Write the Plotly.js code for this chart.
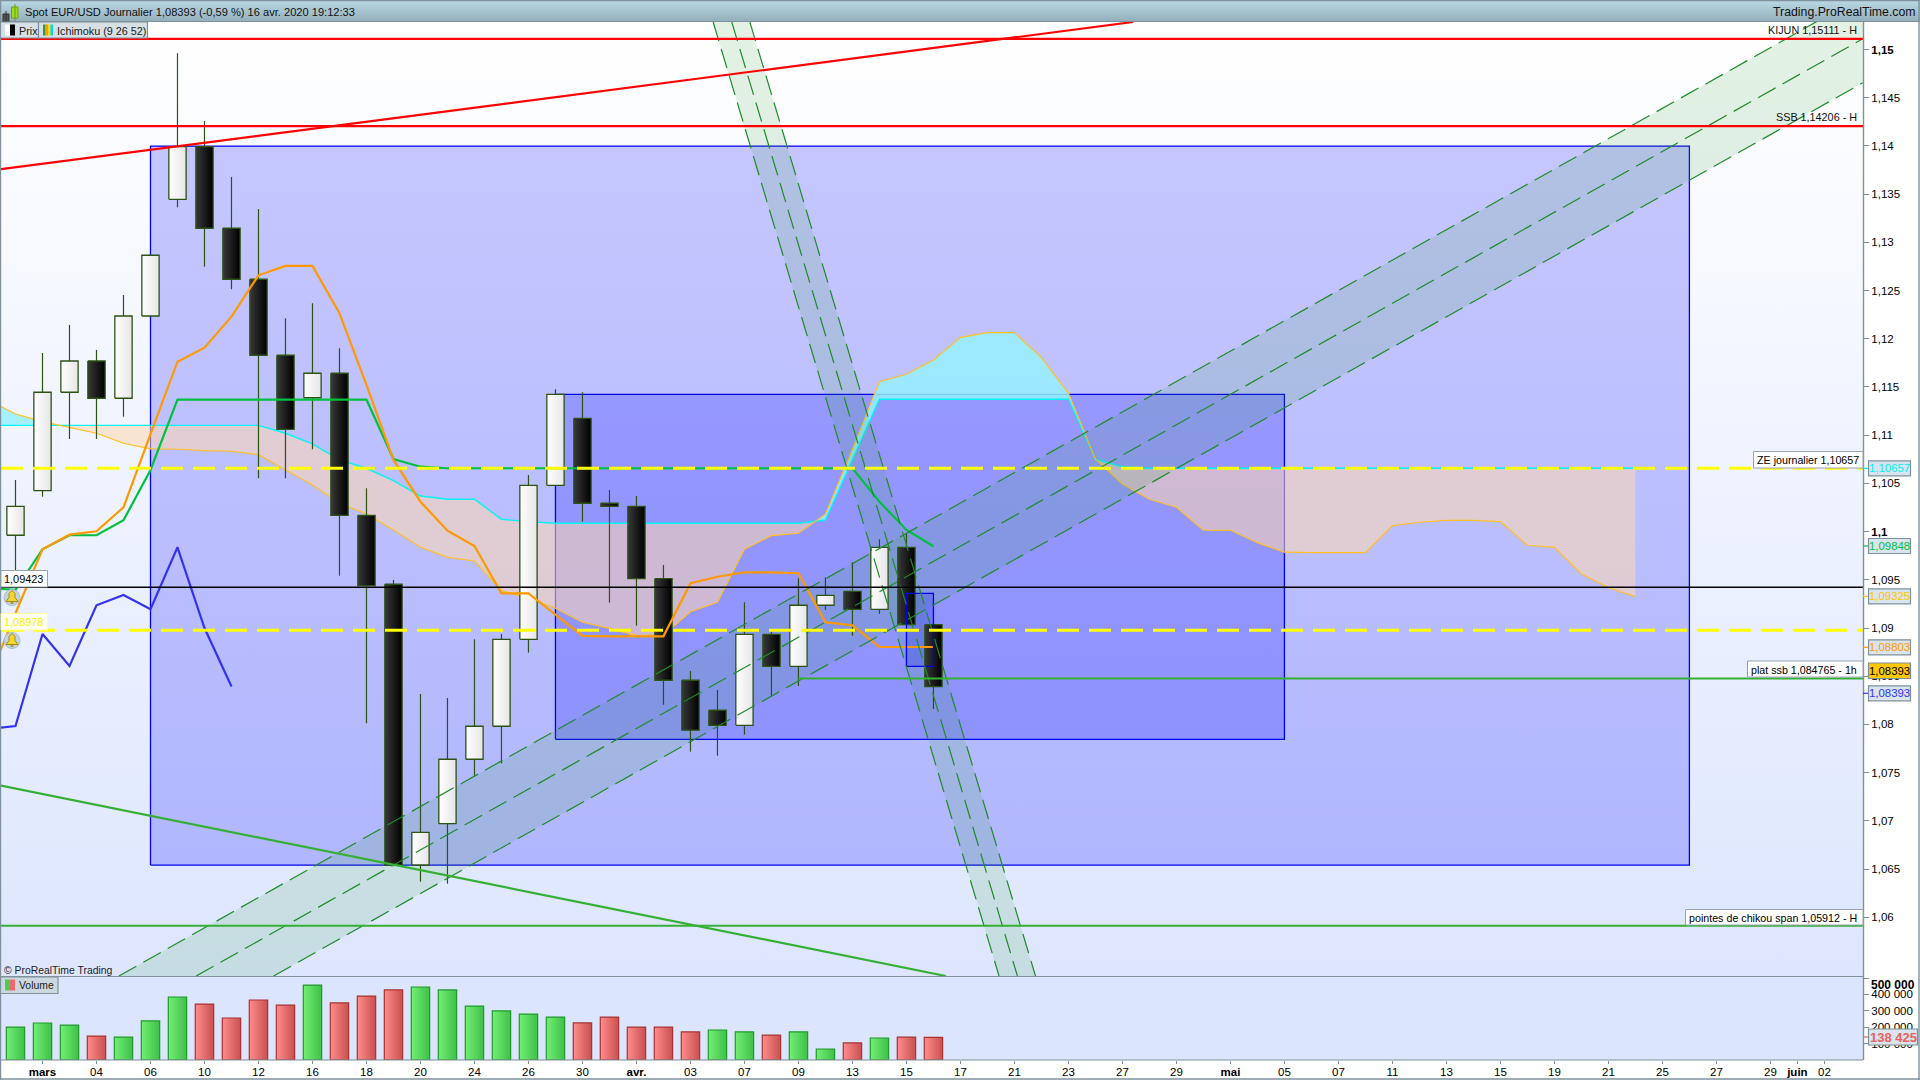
<!DOCTYPE html>
<html><head><meta charset="utf-8">
<script src="https://cdn.plot.ly/plotly-3.0.1.min.js"></script>
<style>html,body{margin:0;padding:0;background:#fff;overflow:hidden}#c{width:1920px;height:1080px}</style>
</head><body><div id="c"></div>
<script>
// ---------- data ----------
const opens =[1.09962,1.10424,1.11445,1.11769,1.11383,1.12236,1.13446,1.13992,1.13146,1.12617,1.11829,1.11388,1.11642,1.10169,1.09454,1.06542,1.06971,1.07639,1.07981,1.08883,1.10480,1.11175,1.10294,1.10262,1.09512,1.08458,1.08147,1.07991,1.08935,1.08603,1.09236,1.09381,1.09194,1.09837,1.09035];
const highs =[1.10535,1.11852,1.12143,1.11884,1.12454,1.12866,1.14961,1.14258,1.13678,1.13346,1.12212,1.12368,1.11901,1.10449,1.09498,1.08316,1.08274,1.08883,1.08938,1.10587,1.11476,1.11445,1.10432,1.10369,1.09654,1.08554,1.08357,1.09267,1.08962,1.09516,1.09526,1.09682,1.09920,1.09982,1.09035];
const lows  =[1.09446,1.10362,1.10960,1.10960,1.11192,1.12236,1.13363,1.12747,1.12513,1.10553,1.10553,1.10854,1.09543,1.08012,1.06530,1.06369,1.06348,1.07466,1.07597,1.08744,1.10480,1.10103,1.09263,1.09024,1.08205,1.07718,1.07676,1.07894,1.08298,1.08399,1.09187,1.08921,1.09146,1.09035,1.08160];
const closes=[1.10262,1.11445,1.11769,1.11383,1.12236,1.12866,1.13992,1.13146,1.12617,1.11829,1.11061,1.11642,1.10169,1.09439,1.06542,1.06881,1.07639,1.07981,1.08883,1.10480,1.11424,1.10294,1.10262,1.09512,1.08458,1.07940,1.07991,1.08935,1.08603,1.09236,1.09339,1.09194,1.09837,1.09035,1.08393];
const volumes=[201000,225600,213000,146000,140000,238000,384000,341000,256000,366000,335000,457000,348000,390000,427000,445000,427000,329000,299000,280000,262000,226000,262000,201000,201000,171000,183000,171000,152000,171000,67000,104000,134000,140000,138425];
const volumeUp=[1,1,1,0,1,1,1,0,0,0,0,1,0,0,0,1,1,1,1,1,1,0,0,0,0,0,1,1,0,1,1,0,1,0,0];
// Ichimoku, first value is the bar before the first bar on screen
const tenkan=[1.09415,1.09395,1.09817,1.09962,1.09962,1.10117,1.10639,1.11368,1.11368,1.11368,1.11368,1.11368,1.11368,1.11368,1.11368,1.10753,1.10673,1.10657,1.10657,1.10657,1.10657,1.10657,1.10657,1.10657,1.10657,1.10657,1.10657,1.10657,1.10657,1.10657,1.10657,1.10657,1.10657,1.10310,1.10017,1.09848];
const kijun=[1.08461,1.09153,1.09817,1.09968,1.10003,1.10252,1.11012,1.11762,1.11907,1.12229,1.12658,1.12755,1.12755,1.12264,1.11521,1.10743,1.10310,1.10009,1.09851,1.09360,1.09360,1.09135,1.08918,1.08914,1.08914,1.08914,1.09464,1.09532,1.09578,1.09578,1.09568,1.09060,1.09028,1.08803,1.08803,1.08803];
const chikou=[1.07954,1.07984,1.08938,1.08606,1.09236,1.09343,1.09194,1.09837,1.09000,1.08393];
const senkouA=[1.11365,1.11220,1.11140,1.11078,1.11020,1.10916,1.10857,1.10854,1.10839,1.10833,1.10798,1.10639,1.10483,1.10294,1.10183,1.10017,1.09837,1.09733,1.09695,1.09387,1.09308,1.09205,1.09060,1.08997,1.08921,1.08928,1.09169,1.09267,1.09817,1.09958,1.09983,1.10180,1.10854,1.11555,1.11632,1.11780,1.12015,1.12063,1.12063,1.11804,1.11434,1.10750,1.10494,1.10335,1.10252,1.10014,1.10014,1.09885,1.09786,1.09781,1.09781,1.09781,1.10061,1.10097,1.10117,1.10117,1.10103,1.09858,1.09837,1.09560,1.09418,1.09325];
const senkouB=[1.11102,1.11102,1.11102,1.11102,1.11102,1.11102,1.11102,1.11102,1.11102,1.11102,1.11102,1.11020,1.10909,1.10743,1.10657,1.10528,1.10369,1.10335,1.10335,1.10128,1.10103,1.10086,1.10086,1.10086,1.10086,1.10086,1.10086,1.10086,1.10086,1.10086,1.10086,1.10120,1.10743,1.11372,1.11372,1.11372,1.11372,1.11372,1.11372,1.11372,1.11372,1.10750,1.10673,1.10657,1.10657,1.10657,1.10657,1.10657,1.10657,1.10657,1.10657,1.10657,1.10657,1.10657,1.10657,1.10657,1.10657,1.10657,1.10657,1.10657,1.10657,1.10657];
// drawn objects
const rectBig=[5,62,1.06541,1.13998], rectMid=[20,47,1.07846,1.11424], rectSmall=[33,34,1.08603,1.09360];
const levelKijun=1.15111, levelSSB=1.14206, levelZE=1.10657, levelPointes=1.05912, levelPlat=1.084765, levelBlack=1.09423, levelYellow=1.08978;
const redTrendX=[-0.54,41.4], redTrendY=[1.13758,1.15285];
const greenTrendX=[-0.54,34.46], greenTrendY=[1.07365,1.05391];
const upChanTopX=[3.83,68.43], upChanTopY=[1.05391,1.15559];
const upChanMidX=[6.69,68.43], upChanMidY=[1.05391,1.15112];
const upChanLowX=[9.56,68.43], upChanLowY=[1.05391,1.14656];
const downChanAX=[25.84,36.43], downChanBX=[26.53,37.11], downChanCX=[27.2,37.78], downChanY=[1.15285,1.05391];
// axis labels
const xTickVals=[1,3,5,7,9,11,13,15,17,19,21,23,25,27,29,31,33,35,37,39,41,43,45,47,49,51,53,55,57,59,61,63,65,66,67];
const xTickText=['<b>mars</b>','04','06','10','12','16','18','20','24','26','30','<b>avr.</b>','03','07','09','13','15','17','21','23','27','29','<b>mai</b>','05','07','11','13','15','19','21','25','27','29','<b>juin</b>','02'];
const yTickVals=[1.15,1.145,1.14,1.135,1.13,1.125,1.12,1.115,1.11,1.105,1.1,1.095,1.09,1.085,1.08,1.075,1.07,1.065,1.06];
const yTickText=['<b>1,15</b>','1,145','1,14','1,135','1,13','1,125','1,12','1,115','1,11','1,105','<b>1,1</b>','1,095','1,09','1,085','1,08','1,075','1,07','1,065','1,06'];
const volTickVals=[500000,400000,300000,200000,100000];
const volTickText=['','400 000','300 000','200 000','100 000'];
const valueTags=[['1,10657',468.3,'#00F0F0'],['1,09848',546,'#00C040'],['1,09325',596.3,'#FFC400'],['1,08803',647.3,'#FF9900'],['1,08393',693.3,'#3333FF']];

// ---------- geometry helpers ----------
const FONT='"Liberation Sans",Arial,sans-serif', GREY='#7E919C';
const XR=[-0.537,68.43], YR=[1.05391,1.15285], VR=[0,512200];
const xp=p=>(p-1)/1862, yp=p=>(1060-p)/1038;
const traces=[], shapes=[], notes=[];
const L=(x,y,color,width,dash,extra)=>traces.push(Object.assign({type:'scatter',mode:'lines',x,y,line:{color,width,dash:dash||'solid'},hoverinfo:'skip',showlegend:false},extra||{}));
const poly=(x,y,fill,extra)=>traces.push(Object.assign({type:'scatter',mode:'lines',x,y,fill:'toself',fillcolor:fill,line:{width:0},hoverinfo:'skip',showlegend:false},extra||{}));
const rectXY=r=>({x:[r[0],r[1],r[1],r[0],r[0]],y:[r[2],r[2],r[3],r[3],r[2]]});
const box=(x0,y0,x1,y1,fill,line,lw)=>shapes.push({type:'rect',xref:'paper',yref:'paper',x0:xp(x0),x1:xp(x1),y0:yp(y0),y1:yp(y1),fillcolor:fill||'rgba(0,0,0,0)',line:{color:line||'rgba(0,0,0,0)',width:line?(lw||1):0},layer:'above'});
const seg=(x0,y0,x1,y1,c,w)=>shapes.push({type:'line',xref:'paper',yref:'paper',x0:xp(x0),x1:xp(x1),y0:yp(y0),y1:yp(y1),line:{color:c,width:w||1},layer:'above'});
const txt=(s,x,y,anchor,o)=>notes.push({text:s,xref:'paper',yref:'paper',x:xp(x),y:yp(y),xanchor:anchor,yanchor:'middle',showarrow:false,borderpad:0,font:{family:FONT,size:(o&&o.size)||10.8,color:(o&&o.color)||'#000'}});

// background of the price panel
traces.push({type:'scatter',mode:'lines',x:[XR[0],XR[1],XR[1],XR[0],XR[0]],y:[YR[0],YR[0],YR[1],YR[1],YR[0]],fill:'toself',line:{width:0},hoverinfo:'skip',showlegend:false,
  fillgradient:{type:'vertical',colorscale:[[0,'#DDE6FE'],[1,'#FFFFFF']]}});

// blue rectangles (fill)
const RECTF='rgba(0,0,255,0.21)';
[rectBig,rectMid,rectSmall].forEach(r=>{const p=rectXY(r);poly(p.x,p.y,RECTF);});
[rectBig,rectMid].forEach(r=>{const p=rectXY(r);L(p.x,p.y,'#0000EE',1.3);});

// Ichimoku cloud: one polygon per stretch between two crossings of the spans
(function(){
  const n=senkouA.length;let xs=[],ta=[],tb=[];
  const flush=()=>{ if(xs.length<2)return;
    const up=ta.reduce((a,b)=>a+b,0)>tb.reduce((a,b)=>a+b,0);
    poly(xs.concat(xs.slice().reverse()),ta.concat(tb.slice().reverse()),up?'rgba(150,240,255,0.85)':'rgba(255,215,175,0.55)');
    xs=[];ta=[];tb=[]; };
  for(let k=0;k<n;k++){
    const i=k-1;
    if(k>0){const d0=senkouA[k-1]-senkouB[k-1],d1=senkouA[k]-senkouB[k];
      if(d0*d1<0){const t=d0/(d0-d1),cx=i-1+t,cy=senkouA[k-1]+t*(senkouA[k]-senkouA[k-1]);
        xs.push(cx);ta.push(cy);tb.push(cy);flush();xs.push(cx);ta.push(cy);tb.push(cy);}
    }
    xs.push(i);ta.push(senkouA[k]);tb.push(senkouB[k]);
    if(senkouA[k]===senkouB[k]){flush();xs.push(i);ta.push(senkouA[k]);tb.push(senkouB[k]);}
  }
  flush();
})();
const idx=a=>a.map((_,k)=>k-1);
L(idx(senkouB),senkouB,'#00F5F5',1.4);
L(idx(senkouA),senkouA,'#FFC020',1.2);

// channel fills
const CH='rgba(60,160,60,0.14)';
poly([upChanTopX[0],upChanTopX[1],upChanLowX[1],upChanLowX[0],upChanTopX[0]],[upChanTopY[0],upChanTopY[1],upChanLowY[1],upChanLowY[0],upChanTopY[0]],CH);
poly([downChanAX[0],downChanAX[1],downChanCX[1],downChanCX[0],downChanAX[0]],[downChanY[0],downChanY[1],downChanY[1],downChanY[0],downChanY[0]],CH);

// candles
const WICK='#2C5214', W=0.32;
const wx=[],wy=[];
highs.forEach((h,i)=>{wx.push(i,i,null);wy.push(h,lows[i],null);});
L(wx,wy,WICK,1.2);
opens.forEach((o,i)=>{
  const c=closes[i],up=c>o;
  traces.push({type:'scatter',mode:'lines',x:[i-W,i+W,i+W,i-W,i-W],y:[o,o,c,c,o],fill:'toself',line:{color:WICK,width:1.3},hoverinfo:'skip',showlegend:false,
    fillgradient:{type:'horizontal',colorscale:up?[[0,'#FFFFFF'],[1,'#E6E6E6']]:[[0,'#383838'],[1,'#000000']]}});
});

// indicators over the candles
L(idx(tenkan),tenkan,'#00C040',2.2);
L(idx(kijun),kijun,'#FF9900',2.2);
L(idx(chikou),chikou,'#3333EE',2.2);
{const p=rectXY(rectSmall);L(p.x,p.y,'#0000EE',1.3);}

// channel lines
const DSH='20px,8px',DC='#1F8A2A';
L(upChanTopX,upChanTopY,DC,1.2,DSH);L(upChanMidX,upChanMidY,DC,1.2,DSH);L(upChanLowX,upChanLowY,DC,1.2,DSH);
L(downChanAX,downChanY,DC,1.2,DSH);L(downChanBX,downChanY,DC,1.2,DSH);L(downChanCX,downChanY,DC,1.2,DSH);

// levels and trend lines
L(XR,[levelBlack,levelBlack],'#000',1.4);
L(XR,[levelZE,levelZE],'#FFFF00',3,'22px,10px');
L(XR,[levelYellow,levelYellow],'#FFFF00',3,'22px,10px');
L(XR,[levelKijun,levelKijun],'#FF0000',2.2);
L(XR,[levelSSB,levelSSB],'#FF0000',2.2);
L(redTrendX,redTrendY,'#FF0000',2.2);
L(greenTrendX,greenTrendY,'#35B035',2.2);
L(XR,[levelPointes,levelPointes],'#35B035',2.2);
L([29,XR[1]],[levelPlat,levelPlat],'#35B035',2.2);

// volume bars
const VW=0.34;
volumes.forEach((v,i)=>{
  const up=volumeUp[i];
  traces.push({type:'scatter',mode:'lines',yaxis:'y2',x:[i-VW,i+VW,i+VW,i-VW,i-VW],y:[0,0,v,v,0],fill:'toself',line:{color:up?'#1F9A2A':'#A83232',width:1.2},hoverinfo:'skip',showlegend:false,
    fillgradient:{type:'horizontal',colorscale:up?[[0,'#74EE74'],[1,'#3EC04A']]:[[0,'#FF8C8C'],[1,'#C85050']]}});
});

// ---------- frame ----------
const top0=[185,214,227],top1=[146,174,186];
for(let k=0;k<21;k++){const t=k/20,c=top0.map((a,j)=>Math.round(a+(top1[j]-a)*t));
  shapes.push({type:'rect',xref:'paper',yref:'paper',x0:xp(0),x1:xp(1920),y0:yp(k+1),y1:yp(k+2),fillcolor:`rgb(${c})`,line:{width:0},layer:'above'});}
seg(0,0.5,1920,0.5,GREY,1.4);seg(0,21.5,1920,21.5,GREY,1.2);
seg(0,976.5,1863,976.5,GREY,1.2);seg(1,1060,1863,1060,GREY,1.2);
seg(1863.5,22,1863.5,1060,GREY,1.4);seg(0.5,0,0.5,1080,GREY,1.4);seg(1919,0,1919,1080,GREY,1.4);seg(0,1079,1920,1079,GREY,1.4);

// title bar
box(3,14,9,22,'#555','#333',1);seg(6,11,6,24,'#333',1);
box(11.5,7,18,18,'#9BDC1E','#6DA010',1);seg(15,4,15,21,'#6DA010',1);
txt('Spot EUR/USD Journalier 1,08393 (-0,59 %) 16 avr. 2020 19:12:33',24,12,'left',{size:11.1,color:'#111'});
txt('Trading.ProRealTime.com',1917,12,'right',{size:12.3,color:'#111'});

// top left legend
box(0.5,22,38.5,38,'#D6E0E5',GREY,1.2);box(38.5,22,147.5,38,'#D6E0E5',GREY,1.2);
box(5,24.5,10,35.5,'#FFFFFF');box(10,24.5,15,35.5,'#000000');
txt('Prix',17.5,30.5,'left',{size:10.8,color:'#222'});
box(43,24.5,45.5,35.5,'#1EA03C');box(45.5,24.5,48,35.5,'#FF9900');box(48,24.5,50.5,35.5,'#FFD800');box(50.5,24.5,53,35.5,'#00D8E8');
txt('Ichimoku (9 26 52)',55.5,30.5,'left',{size:10.8,color:'#222'});

// right hand notes on the levels
txt('KIJUN 1,15111 - H',1858,30,'right',{size:10.8,color:'#111'});
txt('SSB 1,14206 - H',1858,116.5,'right',{size:10.8,color:'#111'});
box(1753.5,451.5,1863,468,'#FFFFFF','#98A4AC',1);txt('ZE journalier 1,10657',1756,460,'left',{size:10.7});
box(1747.5,661,1863,677,'#FFFFFF','#98A4AC',1);txt('plat ssb 1,084765 - 1h',1749.5,669.5,'left',{size:10.7});
box(1685.5,909.5,1863,925,'#FFFFFF','#98A4AC',1);txt('pointes de chikou span 1,05912 - H',1687.5,918,'left',{size:10.7});

// left hand notes
box(1,570.5,47.5,587,'#FFFFFF','#98A4AC',1);txt('1,09423',3,579,'left',{size:10.9});
box(1,613.5,47.5,630,'#FFFFF0','#FFFFA0',1);txt('1,08978',3,622,'left',{size:10.9,color:'#F2F200'});
[597.5,640.5].forEach(cy=>{
  shapes.push({type:'circle',xref:'paper',yref:'paper',x0:xp(4),x1:xp(20),y0:yp(cy+8),y1:yp(cy-8),fillcolor:'#C3D4E0',line:{color:'#A8BCCB',width:1},layer:'above'});
  const P=(x,y)=>xp(x).toFixed(5)+','+yp(y).toFixed(5);
  shapes.push({type:'path',xref:'paper',yref:'paper',path:`M${P(6,cy+4)} L${P(18,cy+4)} L${P(15,cy)} L${P(15,cy-4)} L${P(12,cy-7)} L${P(9,cy-4)} L${P(9,cy)} Z`,fillcolor:'#F4D633',line:{color:'#A88A10',width:1},layer:'above'});
  seg(10.5,cy+5.5,13.5,cy+5.5,'#A88A10',1.5);
});

txt('© ProRealTime Trading',3,970,'left',{size:10.4,color:'#222'});
box(0.5,977,58,993.5,'#CBD8DF',GREY,1.2);box(5,979.5,10,990.5,'#4CCB55');box(10,979.5,15,990.5,'#EE6A6A');
txt('Volume',18,985.5,'left',{size:10.4,color:'#222'});

// right value tags
valueTags.forEach(t=>{seg(1863,t[1],1868,t[1],t[2],1.2);box(1868.5,t[1]-7.5,1910.5,t[1]+7.5,'#D9E4EE',GREY,1.2);txt(t[0],1889.5,t[1],'center',{size:11.4,color:t[2]});});
box(1868.5,663,1910.5,678.5,'#FFC800',GREY,1.2);txt('1,08393',1889.5,670.7,'center',{size:11.4,color:'#000'});
txt('<b>500 000</b>',1869.5,984.5,'left',{size:12});
seg(1863,1037,1868,1037,'#E86060',1.2);
box(1868.5,1029,1917.5,1045,'#D9E4EE',GREY,1.2);txt('<b>138 425</b>',1893,1037,'center',{size:13,color:'#E86060'});

const axisBase={showgrid:false,zeroline:false,showline:false,ticks:'outside',tickcolor:GREY,tickfont:{family:FONT,size:11.5,color:'#000'},fixedrange:true};
const layout={width:1920,height:1080,margin:{l:1,r:57,t:22,b:20,pad:0},paper_bgcolor:'#FFFFFF',plot_bgcolor:'#DBE5FD',showlegend:false,hovermode:false,
  xaxis:Object.assign({},axisBase,{range:XR,anchor:'y2',tickmode:'array',tickvals:xTickVals,ticktext:xTickText,ticklen:3,tickangle:0,tickwidth:1,ticklabelstandoff:-2}),
  yaxis:Object.assign({},axisBase,{range:YR,domain:[84/1038,1],side:'right',anchor:'x',tickmode:'array',tickvals:yTickVals,ticktext:yTickText,ticklen:5,tickwidth:1}),
  yaxis2:Object.assign({},axisBase,{range:VR,domain:[0,84/1038],side:'right',anchor:'x',tickmode:'array',tickvals:volTickVals,ticktext:volTickText,ticklen:5,tickwidth:1}),
  shapes,annotations:notes};
Plotly.newPlot('c',traces,layout,{displayModeBar:false,staticPlot:true,responsive:false});
</script></body></html>
